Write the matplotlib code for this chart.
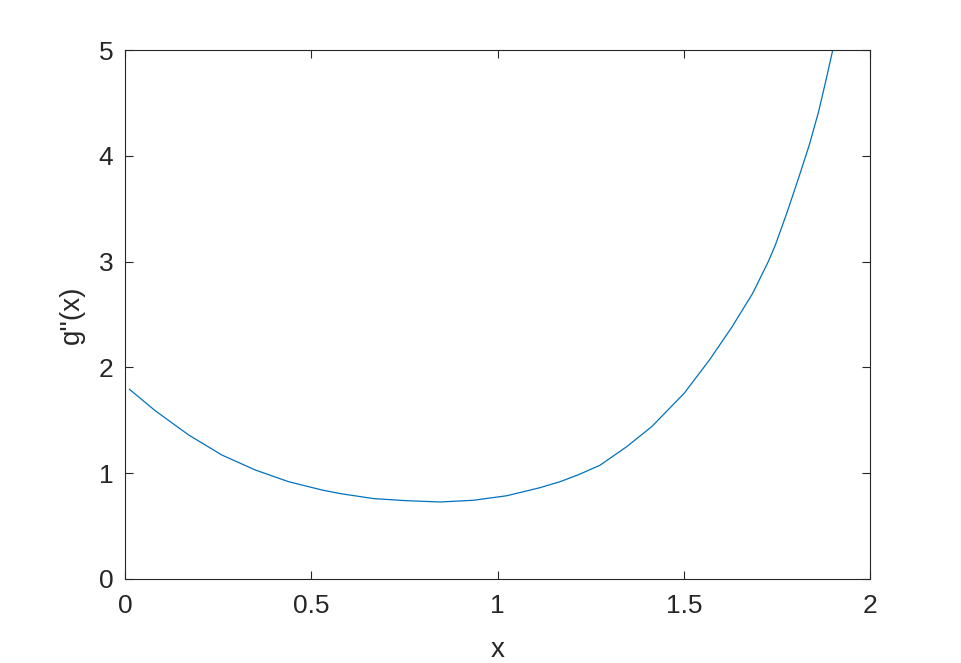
import matplotlib.pyplot as plt

# values
x_vals = [0.012, 0.081, 0.171, 0.260, 0.350, 0.439, 0.529, 0.580, 0.667, 0.756,
          0.846, 0.935, 1.025, 1.114, 1.168, 1.217, 1.275, 1.347, 1.414, 1.501,
          1.569, 1.630, 1.685, 1.727, 1.746, 1.778, 1.808, 1.837, 1.862, 1.883,
          1.900]
g2_vals = [1.793, 1.591, 1.361, 1.172, 1.030, 0.920, 0.841, 0.806, 0.760, 0.740,
           0.728, 0.744, 0.787, 0.863, 0.920, 0.985, 1.075, 1.251, 1.440, 1.755,
           2.070, 2.385, 2.700, 3.000, 3.157, 3.472, 3.787, 4.102, 4.417, 4.733,
           5.000]

x_ticks = [0, 0.5, 1, 1.5, 2]
x_tick_labels = ["0", "0.5", "1", "1.5", "2"]
y_ticks = [0, 1, 2, 3, 4, 5]

axis_color = "#262626"
plt.rcParams["font.family"] = ["Liberation Sans", "DejaVu Sans"]

fig = plt.figure(figsize=(9.61, 6.63), dpi=100)
ax = fig.add_axes([125 / 961, 1 - 579 / 663, 745 / 961, 529 / 663])

ax.plot(x_vals, g2_vals, color="#0072BD", linewidth=0.9)

ax.set_xlim(0, 2)
ax.set_ylim(0, 5)
ax.set_xticks(x_ticks)
ax.set_xticklabels(x_tick_labels)
ax.set_yticks(y_ticks)

ax.tick_params(direction="in", top=True, right=True, length=6, width=0.8,
               colors=axis_color, labelsize=19)
ax.tick_params(axis="x", pad=10.5)
ax.tick_params(axis="y", pad=8.5)
for spine in ax.spines.values():
    spine.set_color(axis_color)
    spine.set_linewidth(0.8)

ax.set_xlabel("x", fontsize=20, color=axis_color, labelpad=14)
ax.set_ylabel("g''(x)", fontsize=20, color=axis_color, labelpad=10)

fig.savefig("out.png", dpi=100)
